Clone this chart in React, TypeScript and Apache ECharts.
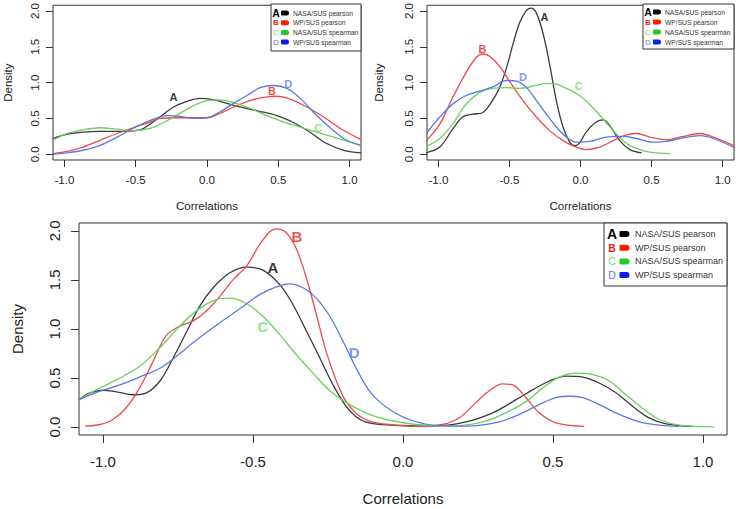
import React, { useEffect, useRef } from "react";
import * as echarts from "echarts";

// ---- tick values ----
const X_TICKS = [-1, -0.5, 0, 0.5, 1];
const Y_TICKS = [0, 0.5, 1, 1.5, 2];
const X_NAME = "Correlations";
const Y_NAME = "Density";

// ---- legend ----
const LETTERS = ["A", "B", "C", "D"];
const SERIES_NAMES = ["NASA/SUS pearson", "WP/SUS pearson", "NASA/SUS spearman", "WP/SUS spearman"];
const LINE_COLORS = ["#3a3a3a", "#ef4a4a", "#6ccf5e", "#5a78ea"];
const LETTER_COLORS = ["#000000", "#ee1c1c", "#6ede6e", "#5b7cf0"];
const MARKER_COLORS = ["#000000", "#ff1a00", "#22cc22", "#0a1ef0"];

// ---- top-left panel densities ----
const TL_A = [[-1.08, 0.22], [-0.98, 0.28], [-0.87, 0.31], [-0.75, 0.32], [-0.6, 0.32], [-0.47, 0.34], [-0.4, 0.42], [-0.33, 0.52], [-0.235, 0.66], [-0.14, 0.74], [-0.05, 0.78], [0.05, 0.76], [0.14, 0.71], [0.23, 0.66], [0.37, 0.6], [0.49, 0.54], [0.6, 0.45], [0.72, 0.31], [0.84, 0.15], [0.96, 0.056], [1.08, 0.02]];
const TL_B = [[-1.08, 0.01], [-0.98, 0.04], [-0.87, 0.1], [-0.75, 0.195], [-0.63, 0.29], [-0.52, 0.37], [-0.4, 0.45], [-0.33, 0.5], [-0.21, 0.51], [-0.095, 0.51], [0, 0.51], [0.09, 0.57], [0.186, 0.66], [0.303, 0.75], [0.42, 0.8], [0.49, 0.81], [0.584, 0.77], [0.7, 0.66], [0.818, 0.52], [0.935, 0.36], [1.08, 0.205]];
const TL_C = [[-1.08, 0.195], [-0.98, 0.29], [-0.87, 0.34], [-0.75, 0.37], [-0.63, 0.35], [-0.52, 0.33], [-0.4, 0.36], [-0.28, 0.47], [-0.19, 0.57], [-0.095, 0.68], [0, 0.75], [0.09, 0.76], [0.186, 0.72], [0.303, 0.64], [0.42, 0.54], [0.537, 0.45], [0.654, 0.38], [0.77, 0.31], [0.888, 0.24], [1.08, 0.125]];
const TL_D = [[-1.08, 0.0], [-0.98, 0.02], [-0.87, 0.056], [-0.75, 0.125], [-0.63, 0.24], [-0.52, 0.36], [-0.4, 0.47], [-0.28, 0.54], [-0.19, 0.53], [-0.095, 0.5], [0, 0.51], [0.09, 0.59], [0.186, 0.71], [0.28, 0.82], [0.373, 0.93], [0.467, 0.96], [0.56, 0.92], [0.654, 0.78], [0.77, 0.54], [0.888, 0.33], [0.98, 0.195], [1.08, 0.125]];
const TL_LABELS = [[-0.235, 0.8], [0.455, 0.88], [0.78, 0.37], [0.57, 0.98]];

// ---- top-right panel densities ----
const TR_A = [[-1.087, 0.02], [-0.99, 0.1], [-0.9, 0.35], [-0.83, 0.52], [-0.76, 0.56], [-0.69, 0.58], [-0.62, 0.75], [-0.57, 0.93], [-0.52, 1.21], [-0.476, 1.53], [-0.43, 1.83], [-0.38, 2.01], [-0.347, 2.04], [-0.31, 1.97], [-0.264, 1.69], [-0.217, 1.25], [-0.17, 0.75], [-0.123, 0.38], [-0.076, 0.17], [-0.041, 0.12], [-0.006, 0.16], [0.04, 0.31], [0.11, 0.45], [0.16, 0.48], [0.206, 0.4], [0.276, 0.19], [0.347, 0.065], [0.43, 0.02]];
const TR_B = [[-1.085, 0.19], [-0.99, 0.42], [-0.9, 0.79], [-0.805, 1.14], [-0.734, 1.35], [-0.687, 1.4], [-0.64, 1.37], [-0.57, 1.23], [-0.5, 1.02], [-0.405, 0.75], [-0.31, 0.52], [-0.217, 0.33], [-0.123, 0.19], [-0.03, 0.1], [0.04, 0.065], [0.135, 0.1], [0.23, 0.19], [0.323, 0.27], [0.394, 0.29], [0.488, 0.24], [0.605, 0.2], [0.723, 0.25], [0.84, 0.29], [0.934, 0.24], [1.085, 0.115]];
const TR_C = [[-1.085, 0.11], [-0.99, 0.22], [-0.9, 0.42], [-0.805, 0.7], [-0.71, 0.86], [-0.62, 0.92], [-0.52, 0.93], [-0.43, 0.92], [-0.335, 0.95], [-0.24, 0.99], [-0.17, 0.98], [-0.1, 0.92], [-0.006, 0.82], [0.088, 0.65], [0.16, 0.49], [0.23, 0.33], [0.3, 0.19], [0.37, 0.1], [0.488, 0.03], [0.633, 0.01]];
const TR_D = [[-1.085, 0.29], [-0.99, 0.52], [-0.9, 0.7], [-0.805, 0.82], [-0.71, 0.88], [-0.617, 0.94], [-0.52, 1.03], [-0.45, 1.02], [-0.38, 0.93], [-0.31, 0.75], [-0.24, 0.56], [-0.17, 0.38], [-0.1, 0.24], [-0.03, 0.17], [0.065, 0.18], [0.18, 0.24], [0.3, 0.25], [0.394, 0.22], [0.51, 0.17], [0.605, 0.18], [0.72, 0.23], [0.84, 0.26], [0.934, 0.22], [1.085, 0.09]];
const TR_LABELS = [[-0.253, 1.92], [-0.69, 1.47], [-0.013, 0.95], [-0.405, 1.08]];

// ---- bottom panel densities ----
const BT_A = [[-1.08, 0.28], [-1.044, 0.35], [-1.0, 0.376], [-0.955, 0.36], [-0.9, 0.33], [-0.855, 0.35], [-0.81, 0.47], [-0.767, 0.7], [-0.72, 0.98], [-0.678, 1.23], [-0.633, 1.42], [-0.578, 1.57], [-0.522, 1.63], [-0.467, 1.6], [-0.41, 1.45], [-0.367, 1.25], [-0.322, 0.98], [-0.278, 0.71], [-0.233, 0.43], [-0.189, 0.21], [-0.144, 0.08], [-0.1, 0.035], [-0.012, 0.017], [0.099, 0.01], [0.21, 0.054], [0.299, 0.146], [0.377, 0.28], [0.432, 0.38], [0.488, 0.47], [0.543, 0.52], [0.599, 0.51], [0.654, 0.45], [0.71, 0.35], [0.766, 0.21], [0.82, 0.095], [0.877, 0.034], [0.966, 0.007]];
const BT_B = [[-1.06, 0.01], [-1.01, 0.027], [-0.967, 0.078], [-0.922, 0.2], [-0.878, 0.4], [-0.833, 0.67], [-0.79, 0.93], [-0.744, 1.03], [-0.7, 1.08], [-0.656, 1.18], [-0.611, 1.33], [-0.567, 1.5], [-0.522, 1.64], [-0.478, 1.86], [-0.444, 1.99], [-0.422, 2.02], [-0.389, 1.98], [-0.356, 1.82], [-0.322, 1.52], [-0.289, 1.15], [-0.256, 0.77], [-0.222, 0.47], [-0.189, 0.26], [-0.144, 0.11], [-0.1, 0.05], [-0.068, 0.034], [0.043, 0.007], [0.132, 0.027], [0.188, 0.095], [0.243, 0.25], [0.288, 0.37], [0.332, 0.44], [0.366, 0.43], [0.41, 0.3], [0.454, 0.146], [0.51, 0.044], [0.604, 0.007]];
const BT_C = [[-1.08, 0.28], [-1.01, 0.4], [-0.944, 0.5], [-0.878, 0.62], [-0.81, 0.81], [-0.744, 1.03], [-0.678, 1.21], [-0.622, 1.3], [-0.578, 1.315], [-0.522, 1.26], [-0.467, 1.13], [-0.41, 0.94], [-0.356, 0.74], [-0.3, 0.55], [-0.244, 0.37], [-0.189, 0.25], [-0.12, 0.14], [-0.057, 0.078], [0.043, 0.027], [0.155, 0.01], [0.266, 0.054], [0.343, 0.146], [0.41, 0.26], [0.466, 0.4], [0.521, 0.51], [0.577, 0.55], [0.632, 0.535], [0.688, 0.47], [0.743, 0.33], [0.799, 0.19], [0.854, 0.078], [0.921, 0.02], [1.037, 0.003]];
const BT_D = [[-1.08, 0.28], [-1.01, 0.366], [-0.944, 0.43], [-0.878, 0.51], [-0.81, 0.6], [-0.756, 0.72], [-0.7, 0.86], [-0.644, 0.99], [-0.589, 1.11], [-0.533, 1.23], [-0.478, 1.35], [-0.422, 1.43], [-0.378, 1.46], [-0.333, 1.42], [-0.289, 1.315], [-0.244, 1.13], [-0.2, 0.875], [-0.156, 0.6], [-0.115, 0.38], [-0.079, 0.26], [-0.034, 0.16], [0.021, 0.078], [0.099, 0.02], [0.21, 0.01], [0.321, 0.054], [0.388, 0.13], [0.454, 0.23], [0.51, 0.3], [0.554, 0.315], [0.599, 0.3], [0.654, 0.23], [0.721, 0.13], [0.788, 0.054], [0.854, 0.02], [0.921, 0.007]];
const BT_LABELS = [[-0.434, 1.63], [-0.354, 1.94], [-0.467, 1.03], [-0.163, 0.76]];

const FONT = "'Liberation Sans', Arial, Helvetica, sans-serif";
const AX = "#333333";

type PanelStyle = {
  tickFont: number; nameFont: number; xMargin: number; yMargin: number;
  xGap: number; yGap: number; tickLen: number; labelFont: number;
};

function buildOption() {
  const panels = [
    { grid: { left: 53, top: 5, width: 308, height: 155 }, curves: [TL_A, TL_B, TL_C, TL_D], labels: TL_LABELS,
      st: { tickFont: 11.5, nameFont: 11.5, xMargin: 14, yMargin: 12, xGap: 40, yGap: 39, tickLen: 7, labelFont: 11 } as PanelStyle,
      legend: { x: 271, y: 4, w: 90, h: 47, row0: 13, step: 9.7, lx: 276, mx: 281, mw: 8, mh: 5, tx: 293, ls: 8, la: 10.5, ts: 6.7 } },
    { grid: { left: 427, top: 3, width: 307, height: 157 }, curves: [TR_A, TR_B, TR_C, TR_D], labels: TR_LABELS,
      st: { tickFont: 11.5, nameFont: 11.5, xMargin: 14, yMargin: 12, xGap: 40, yGap: 42, tickLen: 7, labelFont: 11 } as PanelStyle,
      legend: { x: 643, y: 4, w: 91, h: 45, row0: 12, step: 10, lx: 648, mx: 653, mw: 8, mh: 5, tx: 665, ls: 8, la: 10.5, ts: 6.7 } },
    { grid: { left: 79, top: 223, width: 648, height: 212 }, curves: [BT_A, BT_B, BT_C, BT_D], labels: BT_LABELS,
      st: { tickFont: 15, nameFont: 15, xMargin: 19, yMargin: 17, xGap: 56, yGap: 54, tickLen: 8, labelFont: 15 } as PanelStyle,
      legend: { x: 604, y: 223, w: 123, h: 63, row0: 234, step: 13.7, lx: 612, mx: 619.5, mw: 10, mh: 6, tx: 635, ls: 10.5, la: 14, ts: 9 } },
  ];

  const grids: any[] = [];
  const xAxes: any[] = [];
  const yAxes: any[] = [];
  const series: any[] = [];
  const graphics: any[] = [];

  panels.forEach((p, gi) => {
    grids.push({ ...p.grid, show: true, borderColor: AX, borderWidth: 1, backgroundColor: "transparent", containLabel: false });
    const st = p.st;
    xAxes.push({
      type: "value", gridIndex: gi, min: -1.08, max: 1.08, position: "bottom",
      name: X_NAME, nameLocation: "middle", nameGap: st.xGap,
      nameTextStyle: { fontFamily: FONT, fontSize: st.nameFont, color: "#222" },
      axisLine: { show: false, onZero: false },
      axisTick: { show: true, inside: false, length: st.tickLen, customValues: X_TICKS, lineStyle: { color: AX } },
      axisLabel: { show: true, customValues: X_TICKS, margin: st.xMargin, fontFamily: FONT, fontSize: st.tickFont, color: "#222", formatter: (v: number) => v.toFixed(1) },
      splitLine: { show: false },
    });
    yAxes.push({
      type: "value", gridIndex: gi, min: -0.08, max: 2.08, position: "left",
      name: Y_NAME, nameLocation: "middle", nameGap: st.yGap, nameRotate: 90,
      nameTextStyle: { fontFamily: FONT, fontSize: st.nameFont, color: "#222" },
      axisLine: { show: false, onZero: false },
      axisTick: { show: true, inside: false, length: st.tickLen, customValues: Y_TICKS, lineStyle: { color: AX } },
      axisLabel: { show: true, customValues: Y_TICKS, rotate: 90, margin: st.yMargin, fontFamily: FONT, fontSize: st.tickFont, color: "#222", formatter: (v: number) => v.toFixed(1) },
      splitLine: { show: false },
    });
    p.curves.forEach((c, ci) => {
      series.push({
        type: "line", xAxisIndex: gi, yAxisIndex: gi, data: c, showSymbol: false, symbol: "none",
        smooth: 0.35, clip: true, lineStyle: { color: LINE_COLORS[ci], width: 1.3 }, silent: true, z: 3,
      });
    });
    series.push({
      type: "scatter", xAxisIndex: gi, yAxisIndex: gi, symbolSize: 0, silent: true, z: 5,
      data: p.labels.map((pt, i) => ({
        value: pt,
        label: { show: true, position: "inside", formatter: LETTERS[i], color: LETTER_COLORS[i], fontFamily: FONT, fontWeight: "bold", fontSize: p.st.labelFont },
      })),
    });
    const L = p.legend;
    graphics.push({ type: "rect", shape: { x: L.x, y: L.y, width: L.w, height: L.h }, style: { fill: "#fff", stroke: AX, lineWidth: 1 }, z: 10 });
    LETTERS.forEach((letter, i) => {
      const cy = L.row0 + i * L.step;
      const weight = i <= 1 ? "bold " : "";
      const size = i === 0 ? L.la : L.ls;
      graphics.push({ type: "text", x: L.lx, y: cy, z: 11, style: { text: letter, fill: LETTER_COLORS[i], font: `${weight}${size}px ${FONT}`, textAlign: "center", textVerticalAlign: "middle" } });
      graphics.push({ type: "rect", z: 11, shape: { x: L.mx, y: cy - L.mh / 2, width: L.mw, height: L.mh, r: [1, L.mh / 2, L.mh / 2, 1] }, style: { fill: MARKER_COLORS[i] } });
      graphics.push({ type: "text", x: L.tx, y: cy, z: 11, style: { text: SERIES_NAMES[i], fill: "#333", font: `${L.ts}px ${FONT}`, textAlign: "left", textVerticalAlign: "middle" } });
    });
  });

  return {
    animation: false,
    backgroundColor: "#ffffff",
    grid: grids,
    xAxis: xAxes,
    yAxis: yAxes,
    series,
    graphic: graphics,
  };
}

export default function App() {
  const ref = useRef<HTMLDivElement>(null);
  useEffect(() => {
    if (!ref.current) return;
    const chart = echarts.init(ref.current, undefined, { renderer: "svg" });
    chart.setOption(buildOption() as any);
    return () => chart.dispose();
  }, []);
  return <div ref={ref} style={{ position: "fixed", left: 0, top: 0, width: 736, height: 509, background: "#fff" }} />;
}
